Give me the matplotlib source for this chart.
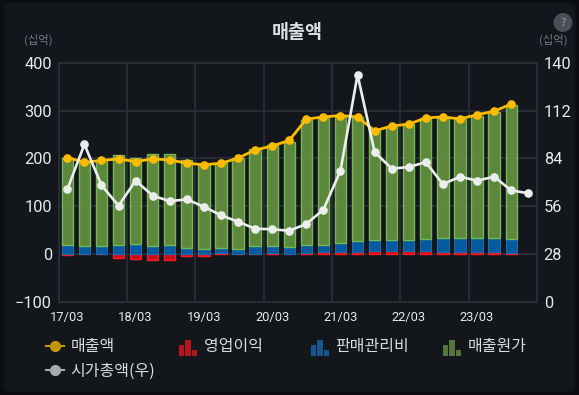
import matplotlib
matplotlib.use("Agg")
import matplotlib.pyplot as plt
import numpy as np
from matplotlib.lines import Line2D
from matplotlib.patches import Rectangle, FancyBboxPatch, Circle
from matplotlib.legend_handler import HandlerBase

plt.rcParams['font.family'] = ['Noto Sans CJK KR', 'DejaVu Sans']

W, H = 579, 395

year_labels = ['17/03', '18/03', '19/03', '20/03', '21/03', '22/03', '23/03']
revenue = [202, 192, 196, 199, 193.6, 199, 197, 190, 187, 190, 200.6, 218, 226, 238,
           282.5, 287, 290, 287, 258, 268, 272, 285, 287, 283, 291.6, 299, 314]
market_cap = [65.9, 92.3, 68.3, 56.3, 71, 62.2, 59, 60, 55.7, 50.7, 46.9, 42.8, 42.5, 41.6,
              45.6, 54, 76.8, 133.1, 87.8, 78, 79, 81.8, 68.9, 73.3, 71, 73.3, 65.3, 63.6]
op_profit = [-2, 0.5, 0, -8, -11, -13, -13, -4, -4, 1, 0.5, -1, 1, -1,
             2, 5, 5, 5, 7, 7, 7, 7, 5, 5, 5, 5, 1.5]
sga = [19, 16.5, 16, 19, 21, 17.5, 19, 12.6, 10.5, 12, 10.5, 16, 15, 15.4,
       16, 14.5, 17.4, 21.6, 22, 22, 22, 25, 29, 29, 29, 29, 30.5]
cogs = [183, 175, 180, 188, 181, 192.5, 191, 184.4, 178.5, 177, 189, 204, 212, 218.6,
        263, 267.5, 267.6, 260.4, 231, 239, 243, 253, 253, 249, 256, 264, 281]

BG = '#13161b'
GRID = '#2a2e39'
TXT = '#e6e8ec'
MUTED = '#757c88'

fig = plt.figure(figsize=(W / 100, H / 100), dpi=100, facecolor='#0b0d10')
fig.patches.append(FancyBboxPatch((0.006, 0.008), 0.988, 0.984,
                                  boxstyle='round,pad=0,rounding_size=0.012',
                                  transform=fig.transFigure, facecolor=BG, edgecolor='none', zorder=-5))

ax = fig.add_axes([58.8 / W, (H - 301.7) / H, 478 / W, 238.7 / H])
ax.set_facecolor('none')
x = np.arange(len(revenue))
xm = np.arange(len(market_cap))
bw = 0.66

profit = np.array(op_profit, float)
sga_a = np.array(sga, float)
cogs_a = np.array(cogs, float)
base = np.clip(profit, 0, None)

ax.bar(x, profit, bw, color=(0.9, 0.05, 0.1, 0.85), edgecolor='#ff1a22', linewidth=1.0, zorder=3)
ax.bar(x, sga_a, bw, bottom=base, color=(0.02, 0.37, 0.66, 0.95), edgecolor='#1a6ab0', linewidth=0.8, zorder=3)
ax.bar(x, cogs_a, bw, bottom=base + sga_a, color=(0.38, 0.56, 0.25, 0.94), edgecolor='#74b855', linewidth=1.0, zorder=3)

ax.set_xlim(-0.5, len(market_cap) - 0.5)
ax.set_ylim(-100, 400)
ax.set_yticks([-100, 0, 100, 200, 300, 400])
ax.set_xticks(np.arange(len(year_labels)) * 4)
ax.set_xticklabels(year_labels)
ax.set_xticks(np.arange(len(year_labels)) * 4 - 0.5, minor=True)
ax.grid(True, axis='y', color=GRID, linewidth=1.3, zorder=1)
ax.grid(True, axis='x', which='minor', color=GRID, linewidth=1.3, zorder=1)
ax.grid(False, axis='x', which='major')
ax.set_axisbelow(True)
ax.tick_params(axis='both', which='both', length=0)
ax.tick_params(axis='y', pad=5, labelcolor=TXT)
ax.tick_params(axis='x', pad=6.5, labelcolor=TXT)
for lab in ax.get_yticklabels():
    lab.set_family(['Roboto', 'DejaVu Sans']); lab.set_fontsize(11.8)
for lab in ax.get_xticklabels():
    lab.set_family(['Roboto', 'DejaVu Sans']); lab.set_fontsize(9.3)
for s in ax.spines.values():
    s.set_color(GRID); s.set_linewidth(1.3)

axr = ax.twinx()
axr.set_ylim(0, 140)
axr.set_yticks([0, 28, 56, 84, 112, 140])
axr.tick_params(axis='y', length=0, pad=5, labelcolor=TXT)
for lab in axr.get_yticklabels():
    lab.set_family(['Roboto', 'DejaVu Sans']); lab.set_fontsize(11.8)
for s in axr.spines.values():
    s.set_visible(False)

ax.plot(x, revenue, color='#fdbb00', lw=2.0, marker='o', ms=5.2, mec='#fdbb00', zorder=6, clip_on=False)
axr.plot(xm, market_cap, color='#eceded', lw=1.9, marker='o', ms=5.2, mec='#eceded', zorder=7, clip_on=False)

fig.text(297.5 / W, 1 - 32 / H, '매출액', ha='center', va='center', fontsize=13.3, fontweight='bold', color='#dcdee2')
fig.text(38.5 / W, 1 - 39.5 / H, '(십억)', ha='center', va='center', fontsize=8.2, color=MUTED)
fig.text(553 / W, 1 - 39.5 / H, '(십억)', ha='center', va='center', fontsize=8.2, color=MUTED)

help_ax = fig.add_axes([552 / W, 1 - 33.5 / H, 22 / W, 22 / H])
help_ax.set_xlim(-1, 1); help_ax.set_ylim(-1, 1); help_ax.axis('off')
help_ax.add_patch(Circle((0, 0), 0.86, color='#4a4e59', lw=0))
help_ax.text(0, -0.02, '?', ha='center', va='center', fontsize=8, color='#9aa0aa')


class BarsIcon:
    def __init__(self, color):
        self.color = color


class BarsHandler(HandlerBase):
    def create_artists(self, legend, orig, xd, yd, width, height, fontsize, trans):
        bw_ = width * 0.29
        hs = [1.03, 1.47, 0.59]
        out = []
        for i, h in enumerate(hs):
            out.append(Rectangle((-xd + i * width * 0.355, -yd - 3.5), bw_, height * h,
                                 facecolor=orig.color, edgecolor='none', transform=trans))
        return out


entries = [
    (Line2D([], [], color='#c3960e', lw=1.5, marker='o', ms=7), '매출액', 46, 347),
    (BarsIcon('#b5161b'), '영업이익', 179, 347),
    (BarsIcon('#15558f'), '판매관리비', 311, 347),
    (BarsIcon('#54763c'), '매출원가', 443, 347),
    (Line2D([], [], color='#a9aaab', lw=1.5, marker='o', ms=7), '시가총액(우)', 46, 371),
]
for h, lab, px, py in entries:
    fig.legend([h], [lab], loc='center left', bbox_to_anchor=(px / W, 1 - py / H),
               frameon=False, borderpad=0, borderaxespad=0, handlelength=1.12, handletextpad=0.42,
               fontsize=11.5, labelcolor='#d9dbdf',
               handler_map={BarsIcon: BarsHandler()})

fig.savefig('out.png', dpi=100, facecolor=fig.get_facecolor())
